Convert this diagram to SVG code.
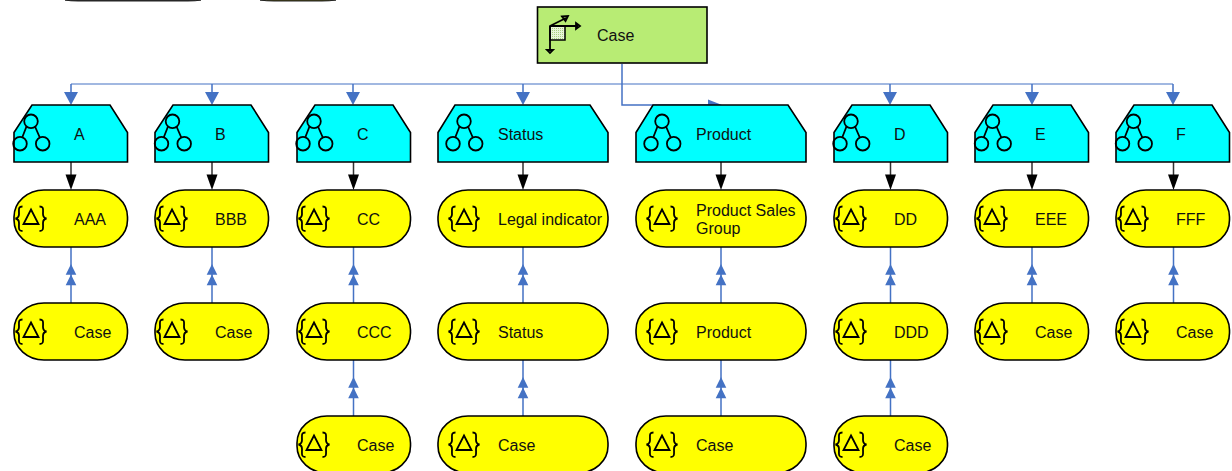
<svg xmlns="http://www.w3.org/2000/svg" width="1232" height="471" viewBox="0 0 1232 471">
<style>
text{font-family:"Liberation Sans",Arial,sans-serif;font-size:16px;fill:#111}
.i{fill:none;stroke:#000;stroke-width:1.8}
.cy{fill:#00ffff;stroke:#000;stroke-width:1.6}
.ye{fill:#ffff00;stroke:#000;stroke-width:1.6}
.bl{fill:none;stroke:#4472c4;stroke-width:1.5}
.blt{fill:none;stroke:#4472c4;stroke-width:1.1}
.bk{fill:none;stroke:#333;stroke-width:1.5}
.bh{fill:#4472c4}
</style>
<defs>
<g id="tree"><path class="i" d="M26.500 126.500 22 138M35 126.500 40 138"/><circle class="i" cx="31" cy="121.300" r="6.800"/><circle class="i" cx="20" cy="143.700" r="6.800"/><circle class="i" cx="42.700" cy="143.700" r="6.800"/></g>
<g id="brace"><path class="i" d="M22.500 0.500C18 0.500 19 3 19 8C19 11 18 12 15.500 12.500C18 13 19 14 19 17C19 22 18 25 22.500 25M39.500 0.500C44 0.500 43 3 43 8C43 11 44 12 46.500 12.500C44 13 43 14 43 17C43 22 44 25 39.500 25"/><path class="i" d="M31 3.500 38.500 18H23.500Z"/></g>
<rect id="yn" class="ye" width="113.500" height="57" rx="30" ry="27"/>
<rect id="yw" class="ye" width="170" height="57" rx="30" ry="27"/>
<polygon id="cn" class="cy" points="0,27.500 18,0 96,0 113.500,27.500 113.500,57 0,57"/>
<polygon id="cw" class="cy" points="0,27.500 17,0 152,0 170,27.500 170,57 0,57"/>
<path id="hb" class="bh" d="M-7 -13H7L0 0Z"/>
<path id="up" class="bh" d="M0 0 5.300 10.700H-5.300ZM0 10.500 5.300 21.200H-5.300Z"/>
<path id="dk" d="M-5.500 -15.500H5.500L0 0Z" fill="#000"/>
<pattern id="ht" width="2" height="2" patternUnits="userSpaceOnUse"><rect width="2" height="2" fill="#e8f5d8"/><rect width="1" height="1" fill="#a9cf80"/></pattern>
</defs>

<g id="clipped-top">
<path d="M65 0Q70 1 78 1H188Q196 1 201 0Z" fill="#333" stroke="#222" stroke-width="1"/>
<path d="M260 0Q266 1 274 1H322Q330 1 336 0Z" fill="#6b6500" stroke="#222" stroke-width="1"/>
</g>

<g id="connectors">
<path class="blt" d="M71 84H1173"/>
<path class="bl" d="M622 64V105H712M71 84V92M1173 84V92M212 84V92M353 84V92M523 84V92M890 84V92M1032 84V92"/>
<path class="bh" d="M708 99.500 722 105H708Z"/>
<use href="#hb" x="71" y="105"/><use href="#hb" x="212" y="105"/><use href="#hb" x="353" y="105"/><use href="#hb" x="523" y="105"/><use href="#hb" x="890" y="105"/><use href="#hb" x="1032" y="105"/><use href="#hb" x="1173" y="105"/>
<path class="bk" d="M71 162V176M212 162V176M353.500 162V176M523 162V176M721 162V176M890.500 162V176M1032 162V176M1173.500 162V176"/>
<use href="#dk" x="71" y="190"/><use href="#dk" x="212" y="190"/><use href="#dk" x="353.500" y="190"/><use href="#dk" x="523" y="190"/><use href="#dk" x="721" y="190"/><use href="#dk" x="890.500" y="190"/><use href="#dk" x="1032" y="190"/><use href="#dk" x="1173.500" y="190"/>
<path class="bl" d="M71 247V303M212 247V303M353.500 247V303M523 247V303M721 247V303M890.500 247V303M1032 247V303M1173.500 247V303M353.500 360V416M523 360V416M721 360V416M890.500 360V416"/>
<use href="#up" x="71" y="264"/><use href="#up" x="212" y="264"/><use href="#up" x="353.500" y="264"/><use href="#up" x="523" y="264"/><use href="#up" x="721" y="264"/><use href="#up" x="890.500" y="264"/><use href="#up" x="1032" y="264"/><use href="#up" x="1173.500" y="264"/>
<use href="#up" x="353.500" y="377"/><use href="#up" x="523" y="377"/><use href="#up" x="721" y="377"/><use href="#up" x="890.500" y="377"/>
</g>

<g id="case-root">
<rect x="537.500" y="7" width="169.500" height="56" fill="#b8ec74" stroke="#000" stroke-width="1.600"/>
<rect x="550" y="26" width="15" height="14" fill="url(#ht)" stroke="#000" stroke-width="1.500"/>
<path class="i" d="M550 26H578M550 26V51M550 26 566 18"/>
<path class="i" d="M576 23 580 26 576 29ZM547 50H553L550 53ZM562 16.500 568 16 565.500 21Z"/>
<text x="597" y="41">Case</text>
</g>

<g id="n-a"><use href="#cn" x="14" y="105"/><use href="#tree"/><text x="74" y="140">A</text></g>
<g id="n-b"><use href="#cn" x="155" y="105"/><use href="#tree" x="141.500"/><text x="215" y="140">B</text></g>
<g id="n-c"><use href="#cn" x="297" y="105"/><use href="#tree" x="283"/><text x="357" y="140">C</text></g>
<g id="n-status"><use href="#cw" x="438" y="105"/><use href="#tree" x="433"/><text x="498" y="140">Status</text></g>
<g id="n-product"><use href="#cw" x="636" y="105"/><use href="#tree" x="631"/><text x="696" y="140">Product</text></g>
<g id="n-d"><use href="#cn" x="834" y="105"/><use href="#tree" x="820"/><text x="894" y="140">D</text></g>
<g id="n-e"><use href="#cn" x="975" y="105"/><use href="#tree" x="961.500"/><text x="1035" y="140">E</text></g>
<g id="n-f"><use href="#cn" x="1116" y="105"/><use href="#tree" x="1102.500"/><text x="1176" y="140">F</text></g>

<g id="n-aaa"><use href="#yn" x="14" y="190"/><use href="#brace" x="0" y="206"/><text x="74" y="225">AAA</text></g>
<g id="n-bbb"><use href="#yn" x="155" y="190"/><use href="#brace" x="141" y="206"/><text x="215" y="225">BBB</text></g>
<g id="n-cc"><use href="#yn" x="297" y="190"/><use href="#brace" x="283" y="206"/><text x="357" y="225">CC</text></g>
<g id="n-legal"><use href="#yw" x="438" y="190"/><use href="#brace" x="433" y="206"/><text x="498" y="225">Legal indicator</text></g>
<g id="n-psg"><use href="#yw" x="636" y="190"/><use href="#brace" x="631" y="206"/><text x="696" y="216">Product Sales</text><text x="696" y="234">Group</text></g>
<g id="n-dd"><use href="#yn" x="834" y="190"/><use href="#brace" x="820" y="206"/><text x="894" y="225">DD</text></g>
<g id="n-eee"><use href="#yn" x="975" y="190"/><use href="#brace" x="961" y="206"/><text x="1035" y="225">EEE</text></g>
<g id="n-fff"><use href="#yn" x="1116" y="190"/><use href="#brace" x="1102" y="206"/><text x="1176" y="225">FFF</text></g>

<g id="n-case1"><use href="#yn" x="14" y="303"/><use href="#brace" x="0" y="319"/><text x="74" y="338">Case</text></g>
<g id="n-case2"><use href="#yn" x="155" y="303"/><use href="#brace" x="141" y="319"/><text x="215" y="338">Case</text></g>
<g id="n-ccc"><use href="#yn" x="297" y="303"/><use href="#brace" x="283" y="319"/><text x="357" y="338">CCC</text></g>
<g id="n-status2"><use href="#yw" x="438" y="303"/><use href="#brace" x="433" y="319"/><text x="498" y="338">Status</text></g>
<g id="n-product2"><use href="#yw" x="636" y="303"/><use href="#brace" x="631" y="319"/><text x="696" y="338">Product</text></g>
<g id="n-ddd"><use href="#yn" x="834" y="303"/><use href="#brace" x="820" y="319"/><text x="894" y="338">DDD</text></g>
<g id="n-case3"><use href="#yn" x="975" y="303"/><use href="#brace" x="961" y="319"/><text x="1035" y="338">Case</text></g>
<g id="n-case4"><use href="#yn" x="1116" y="303"/><use href="#brace" x="1102" y="319"/><text x="1176" y="338">Case</text></g>

<g id="n-case5"><use href="#yn" x="297" y="416"/><use href="#brace" x="283" y="432"/><text x="357" y="451">Case</text></g>
<g id="n-case6"><use href="#yw" x="438" y="416"/><use href="#brace" x="433" y="432"/><text x="498" y="451">Case</text></g>
<g id="n-case7"><use href="#yw" x="636" y="416"/><use href="#brace" x="631" y="432"/><text x="696" y="451">Case</text></g>
<g id="n-case8"><use href="#yn" x="834" y="416"/><use href="#brace" x="820" y="432"/><text x="894" y="451">Case</text></g>
</svg>
